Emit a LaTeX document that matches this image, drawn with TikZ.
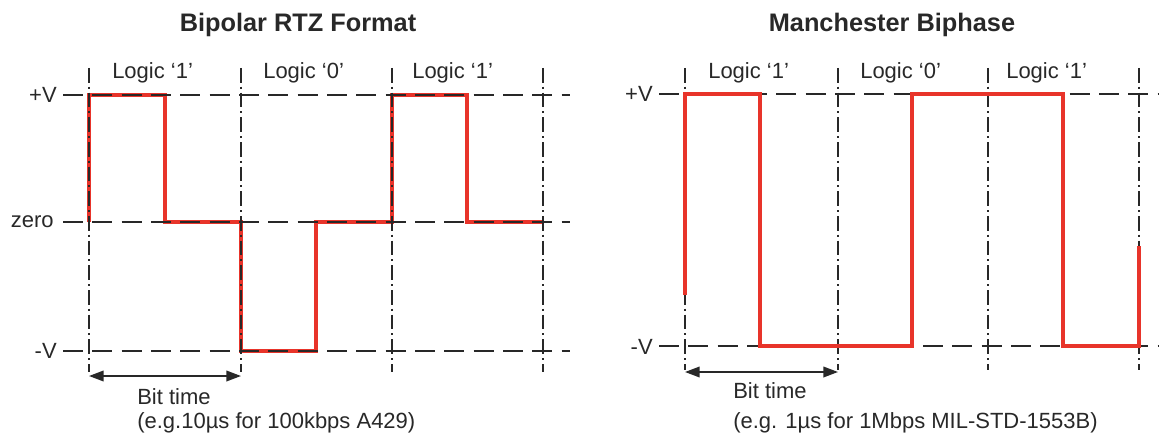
\documentclass[tikz,border=0pt]{standalone}
\usepackage{fontspec}
\setmainfont{Liberation Sans}
\usetikzlibrary{arrows.meta}
\definecolor{sig}{RGB}{232,52,42}
\definecolor{ink}{RGB}{40,40,40}
\begin{document}
\begin{tikzpicture}[x=0.75pt,y=-0.75pt,
  hline/.style={ink,line width=1.9pt,dash pattern=on 15pt off 7pt},
  vline/.style={ink,line width=1.9pt,dash pattern=on 11pt off 3pt on 1.5pt off 3pt},
  wave/.style={sig,line width=3.4pt,line join=miter},
  lbl/.style={text=ink,font=\fontsize{16.5}{19}\selectfont,inner sep=0pt},
  ttl/.style={text=ink,font=\fontsize{19}{22}\selectfont\bfseries,inner sep=0pt},
  bitarrow/.style={ink,line width=1.2pt,{Triangle[length=11pt,width=8pt]}-{Triangle[length=11pt,width=8pt]}}
]
\useasboundingbox (0,0) rectangle (1159,435);

% ---------- Left: Bipolar RTZ ----------
\node[ttl,anchor=base] (t1) at (298,32) {Bipolar RTZ Format};
\draw[wave] (89,222) -- (89,95) -- (165,95) -- (165,222) -- (241,222) -- (241,351)
  -- (316,351) -- (316,222) -- (392,222) -- (392,95) -- (467,95) -- (467,222) -- (543,222);
\draw[hline] (63,95) -- (570,95);
\draw[hline] (63,222) -- (570,222);
\draw[hline] (63,351) -- (570,351);
\foreach \x in {89,241,392,543} \draw[vline] (\x,68) -- (\x,372);
\node[lbl,anchor=east] (lpv) at (57,95) {+V};
\node[lbl,anchor=east] (lzero) at (54,222) {zero};
\node[lbl,anchor=east] (lmv) at (57,351) {-V};
\node[lbl,anchor=base west] (l1a) at (112,79) {Logic `1'};
\node[lbl,anchor=base west] (l0) at (263,79) {Logic `0'};
\node[lbl,anchor=base west] (l1b) at (412,79) {Logic `1'};
\coordinate (la) at (89,376);
\coordinate (lb) at (241,376);
\draw[bitarrow] (la) -- (lb);
\node[lbl,anchor=base west] (lbt) at (137,404) {Bit time};
\node[lbl,anchor=base west] (lex) at (137,428) {(e.g.10µs for 100kbps A429)};

% ---------- Right: Manchester ----------
\node[ttl,anchor=base] (t2) at (892,32) {Manchester Biphase};
\draw[hline] (659,94) -- (1159,94);
\draw[hline] (659,346) -- (1159,346);
\foreach \x in {685,838,988,1139} \draw[vline] (\x,68) -- (\x,370);
\draw[wave] (685,295) -- (685,94) -- (760,94) -- (760,346) -- (912,346) -- (912,94)
  -- (1063,94) -- (1063,346) -- (1139,346) -- (1139,246);
\node[lbl,anchor=east] (rpv) at (653,94) {+V};
\node[lbl,anchor=east] (rmv) at (653,347) {-V};
\node[lbl,anchor=base west] (r1a) at (708,79) {Logic `1'};
\node[lbl,anchor=base west] (r0) at (860,79) {Logic `0'};
\node[lbl,anchor=base west] (r1b) at (1006,79) {Logic `1'};
\coordinate (ra) at (685,372);
\coordinate (rb) at (838,372);
\draw[bitarrow] (ra) -- (rb);
\node[lbl,anchor=base west] (rbt) at (733,398) {Bit time};
\node[lbl,anchor=base west] (rex) at (733,428) {(e.g. 1µs for 1Mbps MIL-STD-1553B)};
\end{tikzpicture}
\end{document}
